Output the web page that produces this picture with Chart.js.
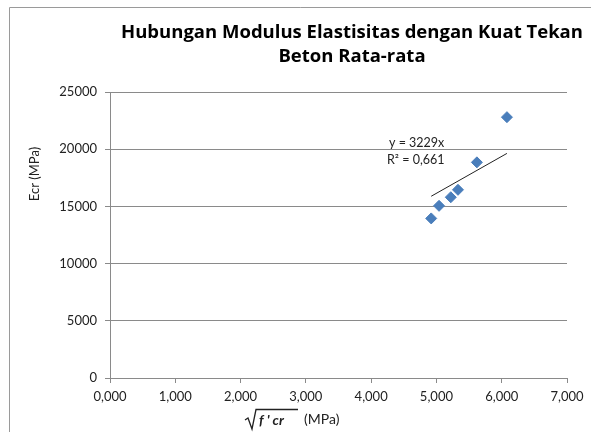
<!DOCTYPE html>
<html>
<head>
<meta charset="utf-8">
<script src="https://cdn.jsdelivr.net/npm/chart.js@4/dist/chart.umd.min.js"></script>
<style>
  html, body { margin: 0; padding: 0; background: #fff; }
  #wrap { position: relative; width: 591px; height: 432px; }
</style>
</head>
<body>
<div id="wrap"><canvas id="chart" width="591" height="432"></canvas></div>
<script>
// sqrt(f'cr) in MPa vs Ecr in MPa
const fcrRoot = [4.92, 5.04, 5.22, 5.33, 5.62, 6.08];
const ecr = [13950, 15050, 15800, 16450, 18850, 22800];
const trendSlope = 3229;
const rSquared = '0,661';
const titleLines = ['Hubungan Modulus Elastisitas dengan Kuat Tekan', 'Beton Rata-rata'];
const xTicks = [0, 1, 2, 3, 4, 5, 6, 7];
const yTicks = [0, 5000, 10000, 15000, 20000, 25000];

const FONT = 'Lato, "Open Sans", sans-serif';
const TITLE_FONT = '"Open Sans", Lato, sans-serif';
const AXIS_GRAY = '#8a8a8a';
const MARKER = '#4a7ebb';

const points = fcrRoot.map((x, i) => ({ x, y: ecr[i] }));
const xMin = Math.min(...fcrRoot), xMax = Math.max(...fcrRoot);
const trend = [{ x: xMin, y: trendSlope * xMin }, { x: xMax, y: trendSlope * xMax }];

function fmtComma(v) {
    return v.toFixed(3).replace('.', ',');
}

/* ── decorations: frame, title, axis titles, trend label ── */
const decorations = {
    id: 'decorations',
    afterDraw(chart) {
        const { ctx } = chart;
        ctx.save();

        // outer frame (left + top)
        ctx.strokeStyle = '#9a9a9a';
        ctx.lineWidth = 1;
        ctx.beginPath();
        ctx.moveTo(9.5, 432);
        ctx.lineTo(9.5, 7.5);
        ctx.lineTo(591, 7.5);
        ctx.stroke();

        // title
        ctx.fillStyle = '#000';
        ctx.textAlign = 'center';
        ctx.textBaseline = 'middle';
        ctx.font = 'bold 18.5px ' + TITLE_FONT;
        ctx.fillText(titleLines[0], 352, 33);
        ctx.fillText(titleLines[1], 352, 57);

        // y axis title
        ctx.font = '13px ' + FONT;
        ctx.fillStyle = '#222';
        ctx.translate(35, 174);
        ctx.rotate(-Math.PI / 2);
        ctx.fillText('Ecr (MPa)', 0, 0);
        ctx.setTransform(1, 0, 0, 1, 0, 0);

        // x axis title: sqrt(f'cr) (MPa)
        ctx.strokeStyle = '#222';
        ctx.lineWidth = 1.3;
        ctx.beginPath();
        ctx.moveTo(245, 420);
        ctx.lineTo(248, 418);
        ctx.lineTo(252, 429);
        ctx.lineTo(256, 409.5);
        ctx.lineTo(298, 409.5);
        ctx.stroke();
        ctx.textAlign = 'left';
        ctx.font = 'italic bold 14px ' + FONT;
        ctx.fillText("f ' cr", 259, 420);
        ctx.font = '14px ' + FONT;
        ctx.fillText('(MPa)', 304, 419);

        // trendline label
        ctx.font = '12.5px ' + FONT;
        ctx.fillText('y = ' + trendSlope + 'x', 389, 143);
        ctx.fillText('R² = ' + rSquared, 387, 160);

        ctx.restore();
    }
};

new Chart(document.getElementById('chart'), {
    type: 'scatter',
    data: {
        datasets: [
            {
                label: 'Ecr',
                data: points,
                pointStyle: 'rectRot',
                pointRadius: 5.5,
                pointHoverRadius: 5.5,
                backgroundColor: MARKER,
                borderColor: MARKER,
                borderWidth: 1,
            },
            {
                label: 'Trend',
                type: 'line',
                data: trend,
                borderColor: '#222',
                borderWidth: 1,
                pointRadius: 0,
                fill: false,
            },
        ],
    },
    options: {
        responsive: false,
        animation: false,
        events: [],
        layout: { padding: { left: 0, top: 92, right: 24, bottom: 0 } },
        plugins: {
            legend: { display: false },
            title: { display: false },
            tooltip: { enabled: false },
        },
        scales: {
            x: {
                type: 'linear',
                min: xTicks[0],
                max: xTicks[xTicks.length - 1],
                afterBuildTicks: s => { s.ticks = xTicks.map(v => ({ value: v })); },
                afterFit: s => { s.height = 54; },
                border: { color: AXIS_GRAY, width: 1 },
                grid: { drawOnChartArea: false, drawTicks: true, tickLength: 5, color: AXIS_GRAY },
                ticks: {
                    color: '#222',
                    font: { family: FONT, size: 13 },
                    padding: 6,
                    maxRotation: 0,
                    callback: v => fmtComma(v),
                },
            },
            y: {
                min: yTicks[0],
                max: yTicks[yTicks.length - 1],
                afterBuildTicks: s => { s.ticks = yTicks.map(v => ({ value: v })); },
                afterFit: s => { s.width = 110; },
                border: { color: AXIS_GRAY, width: 1 },
                grid: { drawTicks: true, tickLength: 5, color: AXIS_GRAY },
                ticks: {
                    color: '#222',
                    font: { family: FONT, size: 13 },
                    padding: 8,
                    callback: v => String(v),
                },
            },
        },
    },
    plugins: [decorations],
});
</script>
</body>
</html>
